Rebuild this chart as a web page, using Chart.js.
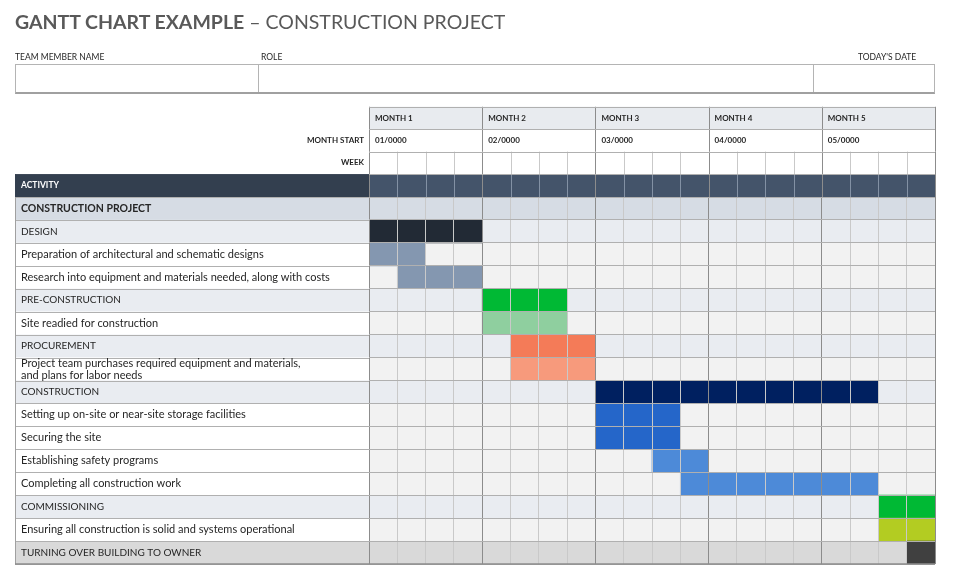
<!DOCTYPE html>
<html>
<head>
<meta charset="utf-8">
<script src="https://cdn.jsdelivr.net/npm/chart.js@4.4.0/dist/chart.umd.min.js"></script>
<style>
  html, body { margin: 0; padding: 0; background: #fff; }
  body { width: 980px; height: 587px; position: relative; overflow: hidden; font-family: Lato, 'Noto Sans', sans-serif; color: #262626; }
  canvas { position: absolute; left: 0; top: 0; }
  #title { position: absolute; left: 15px; top: 10px; font-size: 19.5px; color: #595959; white-space: nowrap; }
  #title b { font-weight: 700; }
  .lbl { position: absolute; top: 52px; font-size: 8.5px; color: #262626; white-space: nowrap; }
  #form { position: absolute; left: 15px; top: 64px; width: 920px; height: 30px; box-sizing: border-box; border: 1px solid #b4b4b4; border-bottom: 2px solid #a0a0a0; }
  .div { position: absolute; top: 0; bottom: 0; border-left: 1px solid #b4b4b4; }
</style>
</head>
<body>
<canvas id="gantt" width="980" height="587"></canvas>
<div id="title"><b>GANTT CHART EXAMPLE</b> – CONSTRUCTION PROJECT</div>
<div class="lbl" style="left:15px">TEAM MEMBER NAME</div>
<div class="lbl" style="left:261px">ROLE</div>
<div class="lbl" style="left:858px">TODAY'S DATE</div>
<div id="form"><div class="div" style="left:242px"></div><div class="div" style="left:797px"></div></div>
<script>
// data
const activities = [
  'CONSTRUCTION PROJECT',
  'DESIGN',
  'Preparation of architectural and schematic designs',
  'Research into equipment and materials needed, along with costs',
  'PRE-CONSTRUCTION',
  'Site readied for construction',
  'PROCUREMENT',
  ['Project team purchases required equipment and materials,', 'and plans for labor needs'],
  'CONSTRUCTION',
  'Setting up on-site or near-site storage facilities',
  'Securing the site',
  'Establishing safety programs',
  'Completing all construction work',
  'COMMISSIONING',
  'Ensuring all construction is solid and systems operational',
  'TURNING OVER BUILDING TO OWNER'
];
const startWeek = [null, 0, 0, 1, 4, 4, 5, 5, 8, 8, 8, 10, 11, 18, 18, 19];
const endWeek   = [null, 4, 2, 4, 7, 7, 8, 8, 18, 11, 11, 12, 18, 20, 20, 20];
const months = ['MONTH 1', 'MONTH 2', 'MONTH 3', 'MONTH 4', 'MONTH 5'];
const monthStarts = ['01/0000', '02/0000', '03/0000', '04/0000', '05/0000'];
const weeksPerMonth = 4;

// styling
const barColors = ['#000000', '#222a35', '#8497b0', '#8497b0', '#00b934', '#8fcf9f', '#f47b58', '#f79a7c',
  '#002060', '#2566c9', '#2566c9', '#4d8ad8', '#4d8ad8', '#00b934', '#b3cc22', '#404040'];
const rowKinds = ['project', 'phase', 'task', 'task', 'phase', 'task', 'phase', 'task',
  'phase', 'task', 'task', 'task', 'task', 'phase', 'task', 'final'];
const rowFill = {
  project: { label: '#d6dce4', cell: '#d6dce4' },
  phase: { label: '#e9ecf1', cell: '#e9ecf1' },
  task: { label: '#ffffff', cell: '#f2f2f2' },
  final: { label: '#d9d9d9', cell: '#d9d9d9' }
};
const FONT = 'Lato, "Noto Sans", sans-serif';
const tableLeft = 15;

function hline(ctx, x0, x1, y) { ctx.beginPath(); ctx.moveTo(x0, y); ctx.lineTo(x1, y); ctx.stroke(); }
function vline(ctx, x, y0, y1) { ctx.beginPath(); ctx.moveTo(x, y0); ctx.lineTo(x, y1); ctx.stroke(); }

const tablePlugin = {
  id: 'ganttTable',
  beforeDraw(chart) {
    const { ctx, chartArea: area, scales: { x, y } } = chart;
    const rowH = (area.bottom - area.top) / activities.length;
    ctx.save();

    // row backgrounds
    activities.forEach((a, i) => {
      const top = y.getPixelForValue(i) - rowH / 2;
      const f = rowFill[rowKinds[i]];
      ctx.fillStyle = f.label;
      ctx.fillRect(tableLeft, top, area.left - tableLeft, rowH);
      ctx.fillStyle = f.cell;
      ctx.fillRect(area.left, top, area.right - area.left, rowH);
    });
    ctx.strokeStyle = '#b0b0b0';
    ctx.lineWidth = 1;
    for (let i = 0; i <= activities.length; i++) {
      hline(ctx, tableLeft, area.left, Math.round(area.top + i * rowH) + 0.5);
    }
    ctx.strokeStyle = '#a0a0a0';
    vline(ctx, tableLeft + 0.5, area.top - rowH, area.bottom);

    // header rows
    const monthTop = area.top - 4 * rowH + 1.5;
    const startTop = area.top - 3 * rowH + 1;
    const weekTop = area.top - 2 * rowH + 0.5;
    const actTop = area.top - rowH;
    const nWeeks = months.length * weeksPerMonth;

    ctx.fillStyle = '#e8ebef';
    ctx.fillRect(area.left, monthTop, area.right - area.left, startTop - monthTop);
    ctx.fillStyle = '#333f4f';
    ctx.fillRect(tableLeft, actTop, area.left - tableLeft, rowH);
    ctx.fillStyle = '#44546a';
    ctx.fillRect(area.left, actTop, area.right - area.left, rowH);

    // week lines
    for (let w = 0; w <= nWeeks; w++) {
      const px = Math.round(x.getPixelForValue(w)) + 0.5;
      const isMonth = w % weeksPerMonth === 0;
      ctx.strokeStyle = isMonth ? '#8c8c8c' : '#c9c9c9';
      vline(ctx, px, weekTop, actTop);
      ctx.strokeStyle = isMonth ? '#8c8c8c' : '#8391a4';
      vline(ctx, px, actTop, area.top);
      if (isMonth) {
        ctx.strokeStyle = '#8c8c8c';
        vline(ctx, px, monthTop, weekTop);
      }
    }
    ctx.strokeStyle = '#b0b0b0';
    [monthTop, startTop, weekTop, actTop].forEach(t => hline(ctx, area.left, area.right, Math.round(t) + 0.5));

    // header texts
    ctx.fillStyle = '#262626';
    ctx.font = 'bold 8px ' + FONT;
    ctx.textBaseline = 'middle';
    ctx.textAlign = 'left';
    months.forEach((m, i) => {
      const px = x.getPixelForValue(i * weeksPerMonth) + 6;
      ctx.fillText(m, px, (monthTop + startTop) / 2);
      ctx.fillText(monthStarts[i], px, (startTop + weekTop) / 2);
    });
    ctx.textAlign = 'right';
    ctx.fillText('MONTH START', area.left - 5, (startTop + weekTop) / 2);
    ctx.fillText('WEEK', area.left - 5, (weekTop + actTop) / 2);
    ctx.textAlign = 'left';
    ctx.fillStyle = '#ffffff';
    ctx.font = 'bold 8.5px ' + FONT;
    ctx.fillText('ACTIVITY', tableLeft + 6, actTop + rowH / 2);
    ctx.restore();
  },
  afterDraw(chart) {
    const { ctx, chartArea: area } = chart;
    ctx.save();
    ctx.strokeStyle = '#8c8c8c';
    ctx.lineWidth = 1.5;
    hline(ctx, tableLeft, area.right, area.bottom);
    ctx.restore();
  }
};

const labelFont = {
  project: { family: FONT, size: 10.5, weight: 'bold' },
  phase: { family: FONT, size: 10 },
  task: { family: FONT, size: 11, lineHeight: 1.1 },
  final: { family: FONT, size: 10 }
};

new Chart(document.getElementById('gantt'), {
  type: 'bar',
  data: {
    labels: activities,
    datasets: [{
      data: activities.map((a, i) => startWeek[i] === null ? null : [startWeek[i], endWeek[i]]),
      backgroundColor: barColors,
      borderWidth: 0,
      borderSkipped: false,
      barPercentage: 1,
      categoryPercentage: 1
    }]
  },
  options: {
    indexAxis: 'y',
    responsive: false,
    animation: false,
    layout: { padding: { left: 21, right: 45, top: 197, bottom: 23 } },
    plugins: { legend: { display: false }, tooltip: { enabled: false } },
    scales: {
      x: {
        type: 'linear',
        position: 'top',
        min: 0,
        max: months.length * weeksPerMonth,
        ticks: { display: false, stepSize: 1 },
        border: { display: false },
        grid: {
          z: 1,
          drawTicks: false,
          color: (c) => c.tick && c.tick.value % weeksPerMonth === 0 ? '#8c8c8c' : '#c9c9c9'
        }
      },
      y: {
        afterFit: (s) => { s.width = 348; },
        border: { display: false },
        grid: { z: 1, drawTicks: false, color: '#b0b0b0' },
        ticks: {
          autoSkip: false,
          crossAlign: 'far',
          padding: 0,
          color: '#262626',
          font: (c) => labelFont[rowKinds[c.index]]
        }
      }
    }
  },
  plugins: [tablePlugin]
});
</script>
</body>
</html>
